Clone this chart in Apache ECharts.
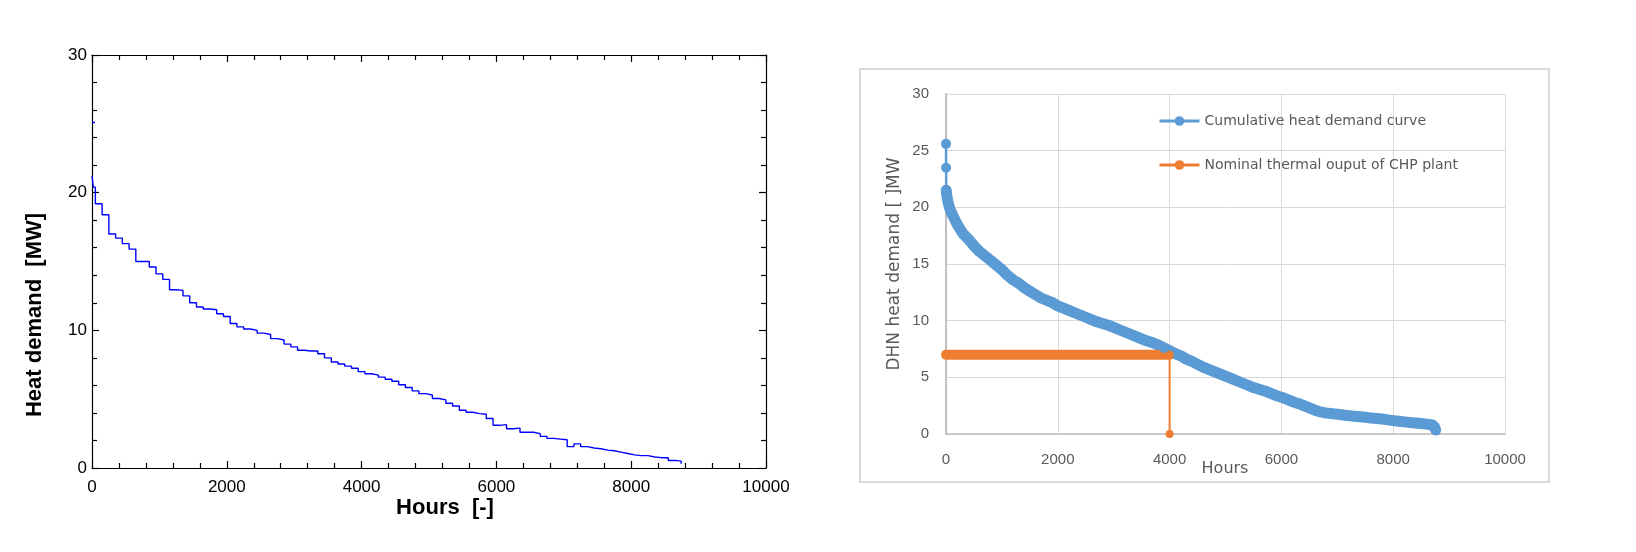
<!DOCTYPE html>
<html>
<head>
<meta charset="utf-8">
<script src="https://cdn.jsdelivr.net/npm/echarts@6/dist/echarts.min.js"></script>
<style>
html,body{margin:0;padding:0;background:#fff;}
#c{width:1636px;height:552px;}
</style>
</head>
<body>
<div id="c"></div>
<script>
// ---- Left chart: stepped heat demand duration curve ----
const leftHours = [0, 20, 50, 150, 250, 350, 450, 550, 650, 750, 850, 950, 1050, 1150, 1250, 1350, 1450, 1550, 1650, 1750, 1850, 1950,
  2050, 2150, 2250, 2350, 2450, 2550, 2650, 2750, 2850, 2950, 3050, 3150, 3250, 3350, 3450, 3550, 3650, 3750, 3850, 3950,
  4050, 4150, 4250, 4350, 4450, 4550, 4650, 4750, 4850, 4950, 5050, 5150, 5250, 5350, 5450, 5550, 5650, 5750, 5850, 5950,
  6050, 6150, 6250, 6350, 6450, 6550, 6650, 6750, 6850, 6950, 7050, 7150, 7250, 7350, 7450, 7550, 7650, 7750, 7850, 7950,
  8050, 8150, 8250, 8350, 8450, 8550, 8650, 8740];
const leftDemand = [21.2, 20.4, 19.2, 18.4, 17.0, 16.7, 16.3, 15.9, 15.0, 15.0, 14.6, 14.1, 13.7, 12.95, 12.9, 12.5, 12.0, 11.7, 11.55, 11.5, 11.2, 11.0,
  10.5, 10.25, 10.1, 10.0, 9.8, 9.7, 9.4, 9.3, 9.0, 8.8, 8.55, 8.5, 8.5, 8.3, 8.0, 7.7, 7.55, 7.4, 7.25, 7.0,
  6.85, 6.75, 6.6, 6.45, 6.3, 6.05, 5.85, 5.6, 5.4, 5.3, 5.05, 4.95, 4.7, 4.5, 4.2, 4.05, 3.95, 3.9, 3.6, 3.1,
  3.15, 2.85, 2.9, 2.6, 2.6, 2.5, 2.3, 2.15, 2.1, 2.05, 1.55, 1.75, 1.55, 1.45, 1.4, 1.3, 1.25, 1.15, 1.05, 0.95,
  0.9, 0.9, 0.8, 0.75, 0.75, 0.55, 0.5, 0.3];
const leftPeakHours = [0, 45];
const leftPeakDemand = [25.1, 25.1];

// ---- Right chart: cumulative heat demand curve and CHP output ----
const curveHours = [0, 2, 4, 10, 30, 60, 100, 150, 200, 300, 400, 500, 600, 700, 800, 900, 1000, 1100, 1200, 1300, 1400, 1500,
  1600, 1700, 1800, 1900, 2000, 2100, 2200, 2300, 2400, 2500, 2600, 2700, 2800, 2900, 3000, 3100, 3200, 3300, 3400, 3500,
  3600, 3700, 3800, 3900, 4000, 4100, 4200, 4300, 4400, 4500, 4600, 4700, 4800, 4900, 5000, 5100, 5200, 5300, 5400, 5500,
  5600, 5700, 5800, 5900, 6000, 6100, 6200, 6300, 6400, 6500, 6600, 6700, 6800, 6900, 7000, 7100, 7200, 7300, 7400, 7500,
  7600, 7700, 7800, 7900, 8000, 8100, 8200, 8300, 8400, 8500, 8600, 8700, 8740, 8760];
const curveDemand = [25.6, 23.5, 21.5, 21.2, 20.6, 20.0, 19.5, 19.0, 18.5, 17.7, 17.2, 16.6, 16.1, 15.7, 15.3, 14.9, 14.5, 14.0, 13.6, 13.3, 12.9, 12.6,
  12.3, 12.0, 11.8, 11.6, 11.3, 11.1, 10.9, 10.7, 10.5, 10.3, 10.1, 9.9, 9.75, 9.6, 9.4, 9.2, 9.0, 8.8, 8.6, 8.4,
  8.2, 8.05, 7.85, 7.6, 7.35, 7.1, 6.9, 6.6, 6.4, 6.15, 5.9, 5.7, 5.5, 5.3, 5.1, 4.9, 4.7, 4.5, 4.3, 4.1,
  3.95, 3.8, 3.6, 3.4, 3.25, 3.05, 2.85, 2.7, 2.5, 2.3, 2.1, 1.95, 1.85, 1.8, 1.75, 1.68, 1.62, 1.57, 1.52, 1.47,
  1.42, 1.37, 1.32, 1.25, 1.18, 1.12, 1.07, 1.02, 0.97, 0.92, 0.87, 0.8, 0.6, 0.35];
const chpHours = [0, 4000, 4000];
const chpOutput = [7, 7, 0];

const pairs = (xs, ys) => xs.map((x, i) => [x, ys[i]]);
const leftData = pairs(leftHours, leftDemand);
const peakData = pairs(leftPeakHours, leftPeakDemand);
const curveData = pairs(curveHours, curveDemand);
const chpData = pairs(chpHours, chpOutput);
const plain = v => String(v);

const blackAxis = (pos, showLabel) => ({
  position: pos,
  axisLine: { show: true, onZero: false, lineStyle: { color: '#000', width: 1.2 } },
  axisTick: { show: true, inside: true, length: 7, lineStyle: { color: '#000', width: 1.2 } },
  minorTick: { show: true, splitNumber: 5, length: 5, lineStyle: { color: '#000', width: 1.2 } },
  splitLine: { show: false },
  axisLabel: { show: showLabel, color: '#000', fontFamily: 'Liberation Sans', fontSize: 17, formatter: plain }
});

const chart = echarts.init(document.getElementById('c'), null, { renderer: 'canvas' });
const grayText = '#595959';

chart.setOption({
  backgroundColor: '#fff',
  animation: false,
  grid: [
    { left: 92, top: 55, width: 674, height: 413 },
    { left: 946, top: 94, width: 559, height: 340 }
  ],
  xAxis: [
    Object.assign({ type: 'value', gridIndex: 0, min: 0, max: 10000, interval: 2000 }, blackAxis('bottom', true),
      { axisLabel: { color: '#000', fontFamily: 'Liberation Sans', fontSize: 17, margin: 11, formatter: plain } }),
    Object.assign({ type: 'value', gridIndex: 0, min: 0, max: 10000, interval: 2000 }, blackAxis('top', false)),
    {
      type: 'value', gridIndex: 1, min: 0, max: 10000, interval: 2000, position: 'bottom',
      axisLine: { show: true, onZero: false, lineStyle: { color: '#bfbfbf', width: 1.5 } },
      axisTick: { show: false },
      splitLine: { show: true, lineStyle: { color: '#d9d9d9', width: 1 } },
      axisLabel: { color: grayText, fontFamily: 'Liberation Sans', fontSize: 15, margin: 18, formatter: plain }
    }
  ],
  yAxis: [
    Object.assign({ type: 'value', gridIndex: 0, min: 0, max: 30, interval: 10 }, blackAxis('left', true),
      { axisLabel: { color: '#000', fontFamily: 'Liberation Sans', fontSize: 17, margin: 5, formatter: plain } }),
    Object.assign({ type: 'value', gridIndex: 0, min: 0, max: 30, interval: 10 }, blackAxis('right', false)),
    {
      type: 'value', gridIndex: 1, min: 0, max: 30, interval: 5, position: 'left',
      axisLine: { show: true, onZero: false, lineStyle: { color: '#bfbfbf', width: 2 } },
      axisTick: { show: false },
      splitLine: { show: true, lineStyle: { color: '#d9d9d9', width: 1 } },
      axisLabel: { color: grayText, fontFamily: 'Liberation Sans', fontSize: 15, margin: 17, formatter: plain }
    }
  ],
  legend: {
    orient: 'vertical',
    left: 1158, top: 114, padding: 0,
    itemWidth: 40, itemHeight: 12, itemGap: 30,
    lineStyle: { width: 3 },
    textStyle: { color: grayText, fontFamily: 'DejaVu Sans', fontSize: 14 },
    data: ['Cumulative heat demand curve', 'Nominal thermal ouput of CHP plant']
  },
  graphic: [
    { type: 'rect', shape: { x: 860, y: 69, width: 689, height: 413 }, style: { fill: 'none', stroke: '#d9d9d9', lineWidth: 2 }, z: -1, silent: true },
    { type: 'text', x: 35, y: 315, rotation: Math.PI / 2,
      style: { text: 'Heat demand  [MW]', font: 'bold 22px "Liberation Sans"', fill: '#000', textAlign: 'center', textVerticalAlign: 'middle' } },
    { type: 'text', x: 445, y: 508,
      style: { text: 'Hours  [-]', font: 'bold 22px "Liberation Sans"', fill: '#000', textAlign: 'center', textVerticalAlign: 'middle' } },
    { type: 'text', x: 895, y: 264, rotation: Math.PI / 2,
      style: { text: 'DHN heat demand [ ]MW', font: '17px "DejaVu Sans"', fill: grayText, textAlign: 'center', textVerticalAlign: 'middle' } },
    { type: 'text', x: 1225, y: 469,
      style: { text: 'Hours', font: '16px "DejaVu Sans"', fill: grayText, textAlign: 'center', textVerticalAlign: 'middle' } }
  ],
  series: [
    { type: 'line', name: 'Heat demand', xAxisIndex: 0, yAxisIndex: 0, data: leftData, step: 'end', showSymbol: false,
      lineStyle: { color: '#0000ff', width: 1.4 }, itemStyle: { color: '#0000ff' } },
    { type: 'line', name: 'Peak', xAxisIndex: 0, yAxisIndex: 0, data: peakData, showSymbol: false,
      lineStyle: { color: '#0000ff', width: 1.4 }, itemStyle: { color: '#0000ff' } },
    { type: 'line', name: 'Cumulative band', xAxisIndex: 2, yAxisIndex: 2, data: curveData.slice(2), symbol: 'none',
      lineStyle: { color: '#5b9bd5', width: 11, cap: 'round', join: 'round' }, itemStyle: { color: '#5b9bd5' } },
    { type: 'line', name: 'Cumulative heat demand curve', xAxisIndex: 2, yAxisIndex: 2, data: curveData,
      symbol: 'circle', symbolSize: 10, showAllSymbol: true,
      lineStyle: { color: '#5b9bd5', width: 2.5 }, itemStyle: { color: '#5b9bd5' } },
    { type: 'line', name: 'Nominal thermal ouput of CHP plant', xAxisIndex: 2, yAxisIndex: 2, data: chpData.slice(1),
      symbol: 'circle', symbolSize: 8, showAllSymbol: true,
      lineStyle: { color: '#ed7d31', width: 2 }, itemStyle: { color: '#ed7d31' } },
    { type: 'line', name: 'CHP band', xAxisIndex: 2, yAxisIndex: 2, data: chpData.slice(0, 2),
      symbol: 'none',
      lineStyle: { color: '#ed7d31', width: 10, cap: 'round' }, itemStyle: { color: '#ed7d31' } }
  ]
});
</script>
</body>
</html>
